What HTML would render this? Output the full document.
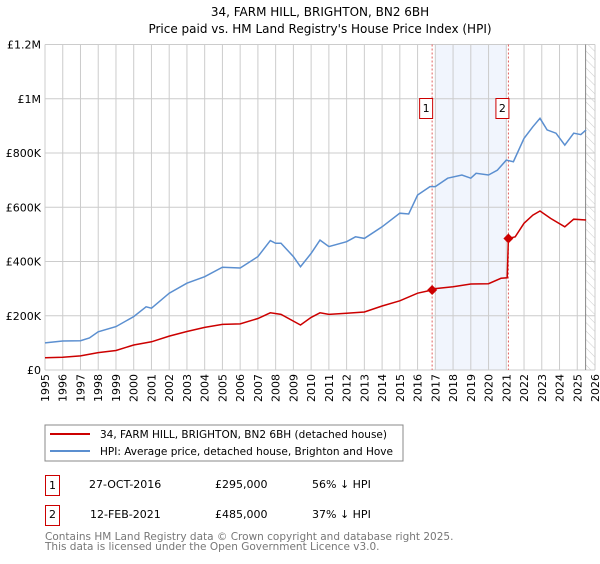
<!DOCTYPE html>
<html><head><meta charset="utf-8"><style>
body{margin:0;background:#fff;width:600px;height:560px;overflow:hidden;font-family:"DejaVu Sans","Liberation Sans",sans-serif;}
svg text{font-family:"DejaVu Sans","Liberation Sans",sans-serif;}
</style></head><body>
<svg id="c" width="600" height="560" xmlns="http://www.w3.org/2000/svg">
<defs><pattern id="hatch" width="6" height="6" patternUnits="userSpaceOnUse" patternTransform="rotate(-45)"><line x1="0" y1="0" x2="0" y2="6" stroke="#ccc" stroke-width="1"/></pattern></defs>
<text x="320" y="16" text-anchor="middle" font-size="12" fill="#000">34, FARM HILL, BRIGHTON, BN2 6BH</text>
<text x="320" y="33" text-anchor="middle" font-size="12" fill="#000">Price paid vs. HM Land Registry's House Price Index (HPI)</text>
<g id="plot"></g>
<rect x="45" y="425" width="358" height="36" fill="#fff" stroke="#888"/>
<line x1="50" y1="434" x2="90" y2="434" stroke="#cc0000" stroke-width="2"/>
<text x="100" y="438" font-size="11" textLength="287" lengthAdjust="spacingAndGlyphs">34, FARM HILL, BRIGHTON, BN2 6BH (detached house)</text>
<line x1="50" y1="451" x2="90" y2="451" stroke="#5b8fd0" stroke-width="2"/>
<text x="100" y="455" font-size="11" textLength="293" lengthAdjust="spacingAndGlyphs">HPI: Average price, detached house, Brighton and Hove</text>
<g>
<rect x="45.5" y="475.5" width="14" height="20" fill="#fff" stroke="#cc0000"/>
<text x="52.5" y="489" font-size="11" text-anchor="middle">1</text>
<text x="89" y="488" font-size="11">27-OCT-2016</text>
<text x="215" y="488" font-size="11">£295,000</text>
<text x="312" y="488" font-size="11">56% ↓ HPI</text></g>
<g>
<rect x="45.5" y="505.5" width="14" height="20" fill="#fff" stroke="#cc0000"/>
<text x="52.5" y="518" font-size="11" text-anchor="middle">2</text>
<text x="90" y="518" font-size="11">12-FEB-2021</text>
<text x="215" y="518" font-size="11">£485,000</text>
<text x="312" y="518" font-size="11">37% ↓ HPI</text></g>
<text x="45" y="540" font-size="10.5" fill="#777">Contains HM Land Registry data © Crown copyright and database right 2025.</text>
<text x="45" y="550" font-size="10.5" fill="#777">This data is licensed under the Open Government Licence v3.0.</text>
</svg>
<script>
const yTicks=[0,200000,400000,600000,800000,1000000,1200000];
const yTickLabels=["£0","£200K","£400K","£600K","£800K","£1M","£1.2M"];
const xYears=[1995,1996,1997,1998,1999,2000,2001,2002,2003,2004,2005,2006,2007,2008,2009,2010,2011,2012,2013,2014,2015,2016,2017,2018,2019,2020,2021,2022,2023,2024,2025,2026];
const hpiT=[1995,1996,1997,1997.5,1998,1999,2000,2000.7,2001,2002,2003,2004,2005,2006,2007,2007.7,2008,2008.3,2009,2009.4,2010,2010.5,2011,2012,2012.5,2013,2014,2015,2015.5,2016,2016.7,2017,2017.7,2018.5,2019,2019.3,2020,2020.5,2021,2021.4,2022,2022.5,2022.9,2023.3,2023.8,2024.3,2024.8,2025.2,2025.5];
const hpiV=[100000,107000,108000,118000,141000,160000,197000,233000,228000,283000,320000,344000,379000,376000,418000,477000,467000,467000,418000,381000,430000,479000,455000,473000,491000,485000,528000,578000,575000,645000,676000,676000,707000,719000,707000,725000,719000,737000,774000,768000,854000,897000,928000,885000,873000,829000,873000,868000,885000];
const priceT=[1995,1996,1997,1998,1999,2000,2001,2002,2003,2004,2005,2006,2007,2007.7,2008.3,2009.4,2010,2010.5,2011,2012,2013,2014,2015,2016,2016.82,2017,2018,2019,2020,2020.7,2021.05,2021.12,2021.5,2022,2022.5,2022.9,2023.5,2024.3,2024.8,2025.5];
const priceV=[45000,47000,52000,64000,72000,92000,104000,125000,142000,157000,168000,170000,190000,211000,205000,166000,194000,211000,205000,209000,214000,236000,255000,283000,295000,300000,307000,317000,318000,338000,340000,485000,491000,541000,571000,586000,559000,528000,556000,553000];
const saleT=[2016.82,2021.12];
const saleV=[295000,485000];
const saleLabels=["1","2"];

const L=45,R=595,T=44.5,B=370;
const xs=y=>L+(y-1995)/(2026-1995)*(R-L);
const ys=v=>B-v/1200000*(B-T);
const g=document.getElementById('plot');
const NS="http://www.w3.org/2000/svg";
function mk(tag,attrs){const e=document.createElementNS(NS,tag);for(const k in attrs)e.setAttribute(k,attrs[k]);g.appendChild(e);return e;}
let e;
e=mk('rect',{x:xs(2016.98),y:T,width:xs(2021.0)-xs(2016.98),height:B-T,fill:'#eef3fc',opacity:0.8});


e=mk('rect',{x:xs(2025.47),y:T,width:R-xs(2025.47),height:B-T,fill:'url(#hatch)'});


xYears.forEach(yr=>{
 e=mk('line',{x1:xs(yr),x2:xs(yr),y1:T,y2:B,stroke:'#cccccc','stroke-width':1});
 
 
 const x=xs(yr);
 e=mk('text',{x:0,y:0,'font-size':11,'text-anchor':'end',transform:`translate(${x+4},${B+4}) rotate(-90)`});
 e.textContent=yr;
 
 
});
yTicks.forEach((v,i)=>{
 e=mk('line',{x1:L,x2:R,y1:ys(v),y2:ys(v),stroke:'#cccccc','stroke-width':1});
 
 
 e=mk('text',{x:L-4,y:ys(v)+4,'font-size':11,'text-anchor':'end'});
 e.textContent=yTickLabels[i];
 
 
});
e=mk('line',{x1:xs(2025.47),x2:xs(2025.47),y1:T,y2:B,stroke:'#888','stroke-width':1});


saleT.forEach((t,i)=>{
 e=mk('line',{x1:xs(t),x2:xs(t),y1:T,y2:B,stroke:'#e06060','stroke-width':1,'stroke-dasharray':'2,2'});
 
 
});
function path(ts,vs){return ts.map((t,i)=>(i?'L':'M')+xs(t).toFixed(1)+','+ys(vs[i]).toFixed(1)).join('');}
e=mk('path',{d:path(hpiT,hpiV),fill:'none',stroke:'#5b8fd0','stroke-width':1.5});


e=mk('path',{d:path(priceT,priceV),fill:'none',stroke:'#cc0000','stroke-width':1.5});


saleT.forEach((t,i)=>{
 const x=xs(t),y=ys(saleV[i]);
 e=mk('path',{d:`M${x},${y-5}L${x+5},${y}L${x},${y+5}L${x-5},${y}Z`,fill:'#cc0000'});
 
 
 e=mk('rect',{x:x-12.5,y:98.5,width:13,height:20,fill:'#fff',stroke:'#cc0000'});
 
 
 e=mk('text',{x:x-6,y:112,'font-size':11,'text-anchor':'middle'});
 e.textContent=saleLabels[i];
 
 
});
</script>
</body></html>
